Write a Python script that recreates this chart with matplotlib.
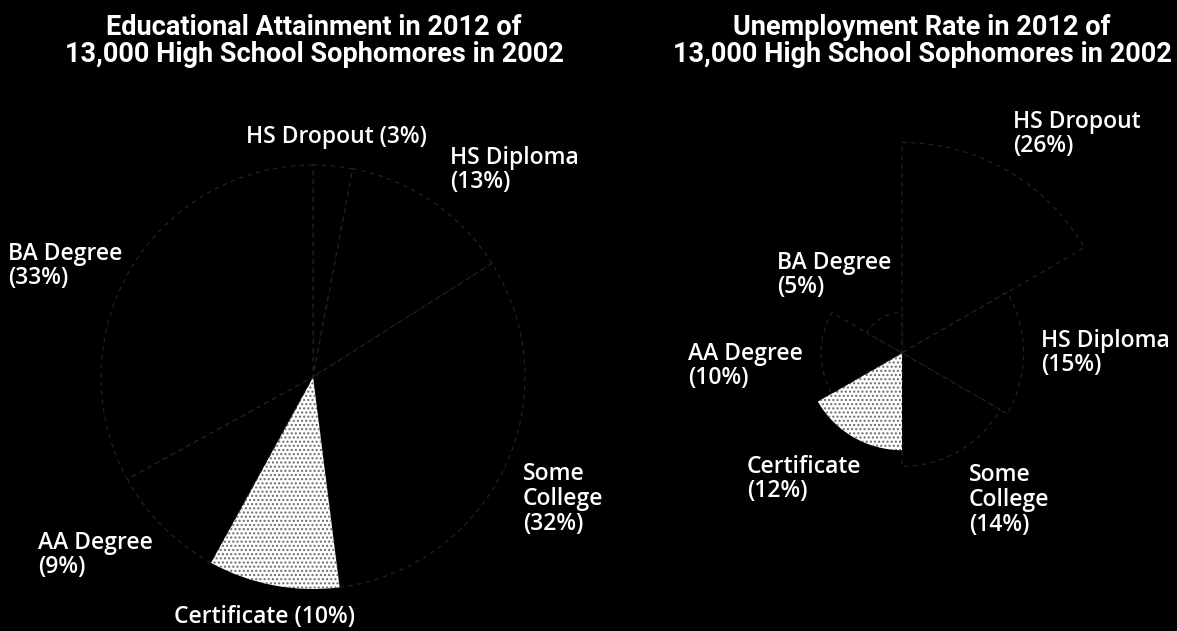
import numpy as np
import matplotlib
matplotlib.use("Agg")
import matplotlib.pyplot as plt

# data
categories = ["HS Dropout", "HS Diploma", "Some College", "Certificate", "AA Degree", "BA Degree"]
attainment = [3, 13, 32, 10, 9, 33]
unemployment = [26, 15, 14, 12, 10, 5]

# how each label breaks into lines (layout only)
left_fmt = ["{} ({}%)", "{}\n({}%)", "Some\nCollege\n({1}%)", "{} ({}%)", "{}\n({}%)", "{}\n({}%)"]
right_fmt = ["{}\n({}%)", "{}\n({}%)", "Some\nCollege\n({1}%)", "{}\n({}%)", "{}\n({}%)", "{}\n({}%)"]

# label anchors in pixels (x, y from top, ha)
left_pos = [(336, 137, "center"), (450, 170, "left"), (523, 499, "left"),
            (264, 617, "center"), (38, 555, "left"), (8, 266, "left")]
right_pos = [(1013, 134, "left"), (1041, 353, "left"), (969, 500, "left"),
             (747, 479, "left"), (688, 366, "left"), (777, 275, "left")]

W, H = 1177, 631
fsize = 16.5
lab_font = dict(family="Open Sans", weight="semibold", size=fsize, color="white")
title_font = dict(family="Roboto", weight="bold", size=19.5, color="white")

fig = plt.figure(figsize=(W / 100, H / 100), dpi=100, facecolor="black")


def px(x, y):
    return x / W, 1 - y / H


def style_wedges(wedges):
    for i, w in enumerate(wedges):
        if categories[i] == "Certificate":
            w.set_facecolor("white")
            w.set_edgecolor("#6a6a6a")
            w.set_hatch("....")
            w.set_linewidth(0)
        else:
            w.set_facecolor("black")
            w.set_edgecolor("#262626")
            w.set_linewidth(0.8)
            w.set_linestyle((0, (4, 4)))


# left pie: center (313, 377), radius 212 px
r1, lim = 212, 1.3
side = 2 * lim * r1
ax1 = fig.add_axes([(313 - side / 2) / W, (H - 377 - side / 2) / H, side / W, side / H])
wedges, _ = ax1.pie(attainment, startangle=90, counterclock=False, radius=1)
style_wedges(wedges)
ax1.set_xlim(-lim, lim)
ax1.set_ylim(-lim, lim)
ax1.set_aspect("equal")
ax1.axis("off")

# right polar area chart: center (902, 353), 8.1 px per percent
rmax = 30
R = rmax * 8.1
ax2 = fig.add_axes([(902 - R) / W, (H - 353 - R) / H, 2 * R / W, 2 * R / H], projection="polar")
ax2.set_theta_zero_location("N")
ax2.set_theta_direction(-1)
n = len(categories)
theta = np.deg2rad(np.arange(n) * 360 / n + 180 / n)
bars = ax2.bar(theta, unemployment, width=np.deg2rad(360 / n), align="center")
style_wedges(bars)
ax2.set_ylim(0, rmax)
ax2.axis("off")

# labels
for i, c in enumerate(categories):
    x, y, ha = left_pos[i]
    fig.text(*px(x, y), left_fmt[i].format(c, attainment[i]), ha=ha, va="center",
             multialignment="left", linespacing=1.05, **lab_font)
    x, y, ha = right_pos[i]
    fig.text(*px(x, y), right_fmt[i].format(c, unemployment[i]), ha=ha, va="center",
             multialignment="left", linespacing=1.05, **lab_font)

fig.text(*px(314, 41), "Educational Attainment in 2012 of\n13,000 High School Sophomores in 2002",
         ha="center", va="center", linespacing=1.0, **title_font)
fig.text(*px(922, 41), "Unemployment Rate in 2012 of\n13,000 High School Sophomores in 2002",
         ha="center", va="center", linespacing=1.0, **title_font)

fig.savefig("out.png", dpi=100, facecolor="black")
